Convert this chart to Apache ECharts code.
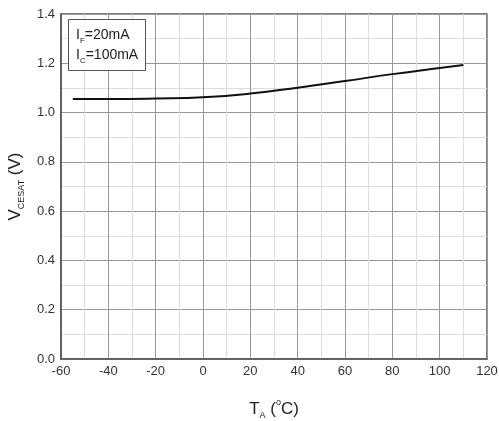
<!DOCTYPE html>
<html><head><meta charset="utf-8">
<script src="https://cdn.jsdelivr.net/npm/echarts@6/dist/echarts.min.js"></script>
<style>html,body{margin:0;padding:0;background:#fff}#c{width:499px;height:421px}</style>
</head><body><div id="c"></div>
<script>
const temps = [-55, -40, -20, 0, 20, 40, 60, 80, 100, 110];
const vcesat = [1.055, 1.055, 1.057, 1.062, 1.077, 1.101, 1.128, 1.156, 1.181, 1.193];
const xTicks = {min: -60, max: 120, interval: 20};
const yTicks = {min: 0, max: 1.4, interval: 0.2};

const chart = echarts.init(document.getElementById('c'), null, {renderer: 'canvas'});
const font = 'Liberation Sans, Arial, sans-serif';
chart.setOption({
  animation: false,
  backgroundColor: '#fff',
  grid: {left: 61, right: 12, top: 14, bottom: 62, outerBoundsMode: 'none', containLabel: false, show: true, borderColor: '#555', borderWidth: 1.5, backgroundColor: 'transparent'},
  title: {
    left: 68, top: 19,
    padding: [6, 8, 6, 8],
    borderColor: '#555', borderWidth: 1, backgroundColor: '#fff',
    text: '{a|I}{s|F}{a|=20mA}\n{a|I}{s|C}{a|=100mA}',
    textStyle: {
      fontFamily: font, fontSize: 14, fontWeight: 'normal', color: '#222', lineHeight: 20,
      rich: {
        a: {fontFamily: font, fontSize: 14, color: '#222', lineHeight: 20},
        s: {fontFamily: font, fontSize: 8, color: '#222', lineHeight: 6, verticalAlign: 'bottom'}
      }
    }
  },
  xAxis: {
    type: 'value', min: xTicks.min, max: xTicks.max, interval: xTicks.interval,
    name: '{a|T}{s|A}{a| (}{p|o}{a|C)}',
    nameLocation: 'middle', nameGap: 39,
    nameTextStyle: {
      rich: {
        a: {fontFamily: font, fontSize: 17, color: '#222', lineHeight: 22},
        s: {fontFamily: font, fontSize: 9, color: '#222', lineHeight: 6, verticalAlign: 'bottom'},
        p: {fontFamily: font, fontSize: 9, color: '#222', lineHeight: 8, verticalAlign: 'top'}
      }
    },
    axisLine: {show: true, onZero: false, lineStyle: {color: '#555', width: 1.5}},
    axisTick: {show: false},
    axisLabel: {fontFamily: font, fontSize: 13, color: '#333', margin: 6},
    splitLine: {show: true, lineStyle: {color: '#999', width: 1}},
    minorTick: {show: false, splitNumber: 2},
    minorSplitLine: {show: true, lineStyle: {color: '#ddd', width: 1}}
  },
  yAxis: {
    type: 'value', min: yTicks.min, max: yTicks.max, interval: yTicks.interval,
    name: '{a|V}{s|CESAT}{a| (V)}',
    nameLocation: 'middle', nameGap: 31, nameRotate: 90,
    nameTextStyle: {
      rich: {
        a: {fontFamily: font, fontSize: 17, color: '#222', lineHeight: 22},
        s: {fontFamily: font, fontSize: 9, color: '#222', lineHeight: 6, verticalAlign: 'bottom'}
      }
    },
    axisLine: {show: true, onZero: false, lineStyle: {color: '#555', width: 1.5}},
    axisTick: {show: false},
    axisLabel: {fontFamily: font, fontSize: 13, color: '#333', margin: 6, formatter: v => v.toFixed(1)},
    splitLine: {show: true, lineStyle: {color: '#999', width: 1}},
    minorTick: {show: false, splitNumber: 2},
    minorSplitLine: {show: true, lineStyle: {color: '#ddd', width: 1}}
  },
  series: [{
    type: 'line', smooth: true, symbol: 'none',
    data: temps.map((t, i) => [t, vcesat[i]]),
    lineStyle: {color: '#111', width: 2}
  }]
});
</script></body></html>
